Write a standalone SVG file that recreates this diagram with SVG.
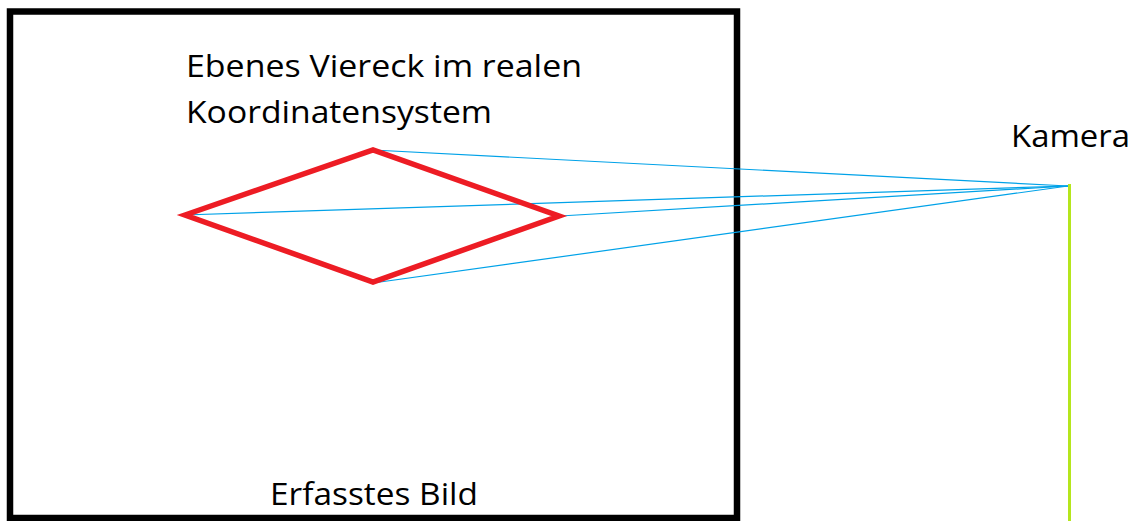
<svg xmlns="http://www.w3.org/2000/svg" width="1141" height="521" viewBox="0 0 1141 521">
<style>
.t{font-family:"Open Sans","Liberation Sans",sans-serif;font-size:31px;fill:#000}
.ray{stroke:#00A2E8;stroke-width:1.2;fill:none}
</style>
<rect width="1141" height="521" fill="#fff"/>
<g id="bild">
<rect x="10" y="11.5" width="727" height="506.5" fill="none" stroke="#000" stroke-width="6.5"/>
<text class="t" x="270" y="505" textLength="208" lengthAdjust="spacingAndGlyphs">Erfasstes Bild</text>
</g>
<g id="connectors">
<line class="ray" x1="373" y1="150" x2="1068" y2="186"/>
<line class="ray" x1="184" y1="215" x2="1068" y2="186"/>
<line class="ray" x1="560" y1="216" x2="1068" y2="186"/>
<line class="ray" x1="373" y1="283" x2="1068" y2="186"/>
</g>
<g id="viereck">
<polygon points="185,215 373,150 559,216 373,282" fill="none" stroke="#ED1C24" stroke-width="5.5" stroke-linejoin="miter"/>
<text class="t" x="186" y="77" textLength="396" lengthAdjust="spacingAndGlyphs">Ebenes Viereck im realen</text>
<text class="t" x="186" y="123" textLength="306" lengthAdjust="spacingAndGlyphs">Koordinatensystem</text>
</g>
<g id="kamera">
<line x1="1069.5" y1="184" x2="1069.5" y2="521" stroke="#B5E61D" stroke-width="3"/>
<text class="t" x="1011" y="147" textLength="119" lengthAdjust="spacingAndGlyphs">Kamera</text>
</g>
</svg>
